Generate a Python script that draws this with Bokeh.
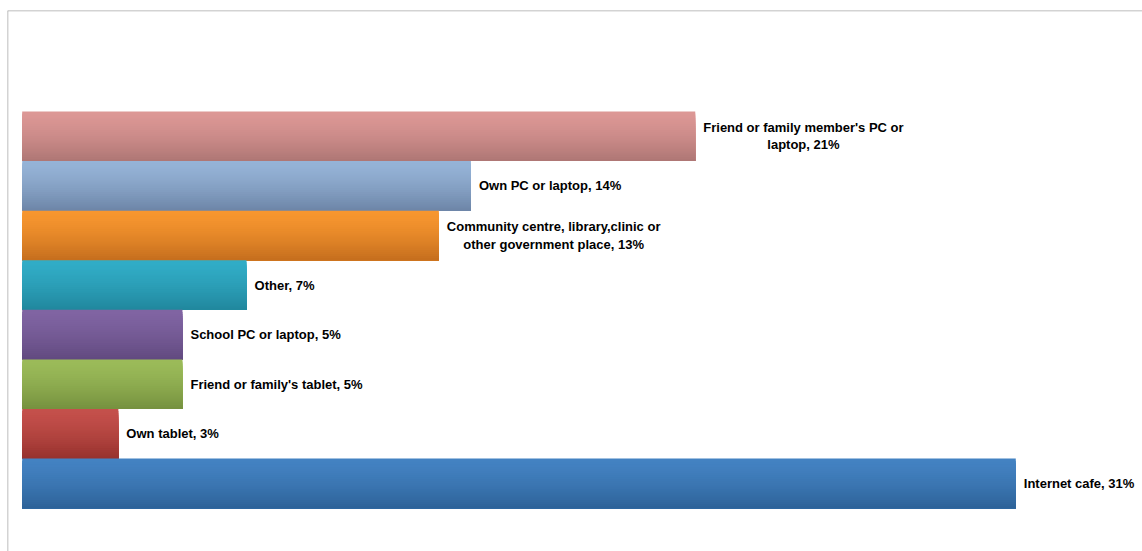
from bokeh.plotting import figure
from bokeh.models import ColumnDataSource, Range1d, Span
from bokeh.embed import file_html
from bokeh.resources import INLINE
from bokeh.core.properties import value

# ---- data (top to bottom as drawn) ----
categories = [
    "Friend or family member's PC or laptop",
    "Own PC or laptop",
    "Community centre, library,clinic or other government place",
    "Other",
    "School PC or laptop",
    "Friend or family's tablet",
    "Own tablet",
    "Internet cafe",
]
percent = [21, 14, 13, 7, 5, 5, 3, 31]
label_text = [
    "Friend or family member's PC or\nlaptop, 21%",
    "Own PC or laptop, 14%",
    "Community centre, library,clinic or\nother government place, 13%",
    "Other, 7%",
    "School PC or laptop, 5%",
    "Friend or family's tablet, 5%",
    "Own tablet, 3%",
    "Internet cafe, 31%",
]
top_colors = ["#DC9795", "#95B3D7", "#F7962F", "#31ACC6", "#8064A2", "#9BBB59", "#C4504B", "#4382C2"]
bottom_colors = ["#AF7775", "#6E86A8", "#C66F1E", "#21889E", "#624A80", "#76923F", "#98322E", "#2E6399"]

n = len(categories)
ypos = [n - 1 - i for i in range(n)]


def hex2rgb(h):
    h = h.lstrip("#")
    return tuple(int(h[k:k + 2], 16) for k in (0, 2, 4))


def blend(c1, c2, f):
    a, b = hex2rgb(c1), hex2rgb(c2)
    return "#%02x%02x%02x" % tuple(int(round(a[k] + (b[k] - a[k]) * f)) for k in range(3))


# gradient layers (styling only; bar lengths come from percent).
N = 24
gy, gh, gr, gc = [], [], [], []
for i in range(n):
    for j in range(N):
        f = (j / (N - 1)) ** 1.4
        top = ypos[i] + 0.5 - j / N
        bot = ypos[i] - 0.5
        gy.append((top + bot) / 2)
        gh.append(top - bot)
        gr.append(percent[i])
        gc.append(blend(top_colors[i], bottom_colors[i], f))
grad = ColumnDataSource(dict(y=gy, h=gh, right=gr, color=gc))

lab = ColumnDataSource(dict(y=ypos, x=percent, text=label_text))

p = figure(
    width=1142, height=551,
    x_range=Range1d(-0.4587, 34.954),
    y_range=Range1d(-1.373, 9.536),
    x_axis_location=None, y_axis_location=None,
    toolbar_location=None, output_backend="svg",
    min_border_left=7, min_border_top=10, min_border_right=0, min_border_bottom=0,
)
p.grid.visible = False
p.outline_line_color = None
p.background_fill_color = "white"
p.border_fill_color = "white"

p.hbar(y="y", left=0, right="right", height="h", fill_color="color",
       line_color=None, source=grad)

p.text(x="x", y="y", text="text", source=lab, x_offset=8,
       anchor="center_left", text_align="center", text_baseline="middle",
       text_font=value("Liberation Sans"), text_font_style="bold",
       text_font_size="13px", text_line_height=1.15, text_color="#000000")

p.add_layout(Span(location=-0.4587, dimension="height", line_color="#A8A8A8", line_width=1.5))
p.add_layout(Span(location=9.536, dimension="width", line_color="#A8A8A8", line_width=1.5))

open("out.html", "w").write(file_html(p, INLINE))
